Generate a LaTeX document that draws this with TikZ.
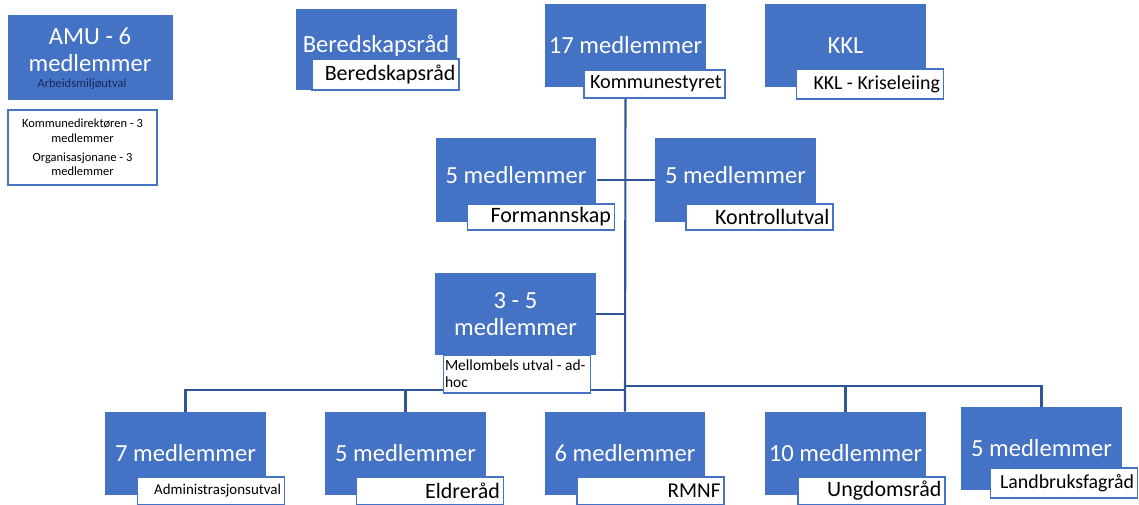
\documentclass[tikz,border=0pt]{standalone}
\usepackage{fontspec}
\setmainfont{Carlito}
\definecolor{boxblue}{HTML}{4472C4}
\definecolor{lineblue}{HTML}{2F5597}
\definecolor{navyblue}{HTML}{1A2A5A}

\begin{document}
\begin{tikzpicture}[
    x=0.02cm, y=-0.02cm,
    unit/.style={rectangle, fill=boxblue, inner sep=0pt, minimum width=3.22cm, minimum height=1.66cm, text=white, align=center, font=\fontsize{14}{15.5}\selectfont},
    tag/.style={rectangle, draw=boxblue, line width=0.9pt, fill=white, inner xsep=0.07cm, inner ysep=0pt, text width=2.8cm, minimum height=0.54cm, align=flush right, font=\fontsize{12.5}{14}\selectfont},
    link/.style={draw=lineblue, line width=1.2pt}
]
\clip (0,0) rectangle (1139,504);

% AMU
\node[unit, minimum width=3.3cm, minimum height=1.7cm] (amu) at (90.5,57.5) {};
\node[text=white, align=center, font=\fontsize{14}{15.5}\selectfont] (amutext) at (90,50) {AMU - 6\\medlemmer};
\node[text=navyblue, font=\fontsize{7.1}{8}\selectfont] (amusub) at (82,84) {Arbeidsmiljøutval};
\node[rectangle, draw=boxblue, line width=1.1pt, fill=white, minimum width=2.98cm, minimum height=1.5cm, align=center, font=\fontsize{7.1}{8.3}\selectfont] (amuinfo) at (82.5,147.5)
    {Kommunedirektøren - 3\\medlemmer\\[2.6pt]Organisasjonane - 3\\medlemmer};

% Top row
\node[unit, minimum height=1.62cm] (bered) at (376.5,49.5) {};
\node[text=white, font=\fontsize{14}{15.5}\selectfont] (beredtext) at (376,46) {Beredskapsråd};
\node[unit] (kstyre) at (625.5,45.5) {17 medlemmer};
\node[unit] (kkl) at (845.5,45.5) {KKL};

% Middle
\node[unit, minimum height=1.68cm, text depth=0.2cm] (forman) at (516,180) {5 medlemmer};
\node[unit, minimum height=1.68cm, text depth=0.2cm] (kontroll) at (735.5,180) {5 medlemmer};
\node[unit, minimum height=1.64cm] (adhoc) at (515.5,314) {3 - 5\\medlemmer};

% Bottom row
\node[unit] (admin) at (185.5,453.5) {7 medlemmer};
\node[unit] (eldre) at (405.5,453.5) {5 medlemmer};
\node[unit] (rmnf) at (625,453.5) {6 medlemmer};
\node[unit] (ungdom) at (845.5,453.5) {10 medlemmer};
\node[unit] (landbruk) at (1041.5,448.5) {5 medlemmer};

% Lines
\coordinate (busl) at (625,390);
\coordinate (busr) at (625,386);
\draw[link] (kstyre.south) -- (rmnf.north);
\draw[link] (forman.east) -- (kontroll.west);
\draw[link] (adhoc.east) -- (adhoc.east -| kstyre.south);
\draw[link] (admin.north) |- (busl);
\draw[link] (eldre.north) -- (eldre.north |- busl);
\draw[link] (busr) -| (ungdom.north);
\draw[link] (busr) -| (landbruk.north);

% Tags
\node[tag, minimum height=0.62cm] (beredtag) at (385.5,74.5) {Beredskapsråd};
\node[tag, text width=2.68cm, minimum height=0.56cm, font=\fontsize{11.5}{13}\selectfont] (kstyretag) at (654.5,84) {Kommunestyret};
\node[tag, minimum height=0.6cm, font=\fontsize{11.3}{13}\selectfont] (kkltag) at (870,84) {KKL - Kriseleiing};
\node[tag, minimum height=0.52cm] (formantag) at (541,217) {Formannskap};
\node[tag, minimum height=0.52cm] (kontrolltag) at (759.5,217) {Kontrollutval};
\node[tag, minimum height=0.76cm, align=flush left, text width=2.88cm, inner xsep=0.03cm, font=\fontsize{8.8}{9.6}\selectfont] (adhoctag) at (517,374) {Mellombels utval - ad-\\hoc};
\node[tag, minimum height=0.56cm, font=\fontsize{8.5}{10}\selectfont] (admintag) at (211,491) {Administrasjonsutval};
\node[tag, minimum height=0.56cm] (eldretag) at (430,491) {Eldreråd};
\node[tag, minimum height=0.56cm, font=\fontsize{12}{14}\selectfont] (rmnftag) at (650.5,491) {RMNF};
\node[tag, minimum height=0.56cm] (ungdomtag) at (871.5,491) {Ungdomsråd};
\node[tag, minimum height=0.6cm, font=\fontsize{11.3}{13}\selectfont] (landbruktag) at (1064,483) {Landbruksfagråd};

\end{tikzpicture}
\end{document}
